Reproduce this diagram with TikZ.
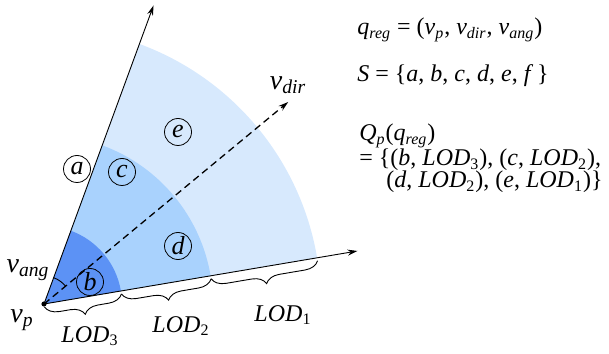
\documentclass[tikz,border=0pt]{standalone}
\usepackage{fontspec}
\setmainfont{Liberation Serif}
\usetikzlibrary{decorations.pathreplacing,arrows.meta,calc}
\definecolor{lodone}{RGB}{215,233,253}
\definecolor{lodtwo}{RGB}{169,210,253}
\definecolor{lodthree}{RGB}{92,146,245}
\newcommand{\mi}[1]{\textit{#1}}
\newcommand{\sbs}[1]{\textsubscript{\textit{#1}}}
\begin{document}
\begin{tikzpicture}[x=0.5pt,y=0.5pt,font=\fontsize{12}{14}\selectfont,
  ray/.style={line width=0.45pt,-{Stealth[length=5pt,width=3pt]}},
  dirline/.style={line width=0.65pt,dash pattern=on 3.5pt off 2.2pt,-{Stealth[length=5pt,width=3pt]}},
  circlab/.style={draw,circle,line width=0.4pt,inner sep=0pt,minimum size=13.5pt,font=\fontsize{13}{14}\selectfont\itshape},
  lodbrace/.style={decorate,decoration={brace,mirror,amplitude=7pt,raise=1.5pt},line width=0.45pt},
  veclab/.style={font=\fontsize{14}{16}\selectfont},
  txt/.style={inner sep=0pt,anchor=base west}]
\useasboundingbox (0,0) rectangle (609,353);
\coordinate (O) at (44,49);
% sectors
\fill[lodone] (O) -- ($(O)+(9.6:138.5pt)$) arc[start angle=9.6,end angle=69.85,radius=138.5pt] -- cycle;
\fill[lodtwo] (O) -- ($(O)+(9.6:84.5pt)$) arc[start angle=9.6,end angle=69.85,radius=84.5pt] -- cycle;
\fill[lodthree] (O) -- ($(O)+(9.6:39pt)$) arc[start angle=9.6,end angle=69.85,radius=39pt] -- cycle;
% coordinates
\coordinate (t1) at ($(O)+(69.85:159pt)$);
\coordinate (t2) at ($(O)+(9.6:159pt)$);
\coordinate (td) at ($(O)+(39.6:158.5pt)$);
\coordinate (r3) at ($(O)+(9.6:39pt)$);
\coordinate (r2) at ($(O)+(9.6:84.5pt)$);
\coordinate (r1) at ($(O)+(9.6:138.5pt)$);
\coordinate (ga) at ($(O)+(69.85:14pt)$);
% rays
\draw[ray] (O) -- (t1);
\draw[ray] (O) -- (t2);
\draw[dirline] (O) -- (td);
\draw[line width=0.45pt] (ga) arc[start angle=69.85,end angle=39.6,radius=14pt];
\fill (O) circle[radius=1.3pt];
% braces
\draw[lodbrace] (O) -- (r3);
\draw[lodbrace] (r3) -- (r2);
\draw[lodbrace] (r2) -- (r1);
\node (l3) at (90,17) {\mi{LOD}\textsubscript{3}};
\node (l2) at (181,27) {\mi{LOD}\textsubscript{2}};
\node (l1) at (283,38) {\mi{LOD}\textsubscript{1}};
% circled labels
\node[circlab] (na) at (77,184) {a};
\node[circlab] (nb) at (90,71) {b};
\node[circlab] (nc) at (122,181) {c};
\node[circlab] (nd) at (178,107) {d};
\node[circlab] (ne) at (178,221) {e};
% vector labels
\node[veclab] (vdir) at (288,268) {\mi{v}\sbs{dir}};
\node[veclab] (vang) at (28,83) {\mi{v}\sbs{ang}};
\node[veclab] (vp) at (22,33) {\mi{v}\sbs{p}};
% right text
\node[txt] (q1) at (357,318) {\mi{q}\sbs{reg} = (\mi{v}\sbs{p}, \mi{v}\sbs{dir}, \mi{v}\sbs{ang})};
\node[txt] (q2) at (357,271) {\mi{S} = \{\mi{a}, \mi{b}, \mi{c}, \mi{d}, \mi{e}, \mi{f}\,\}};
\node[txt] (q3) at (359,212) {\mi{Q}\sbs{p}(\mi{q}\sbs{reg})};
\node[txt] (q4) at (359,187) {= \{(\mi{b}, \mi{LOD}\textsubscript{3}), (\mi{c}, \mi{LOD}\textsubscript{2}),};
\node[txt] (q5) at (386,165) {(\mi{d}, \mi{LOD}\textsubscript{2}), (\mi{e}, \mi{LOD}\textsubscript{1})\}};
\end{tikzpicture}
\end{document}
